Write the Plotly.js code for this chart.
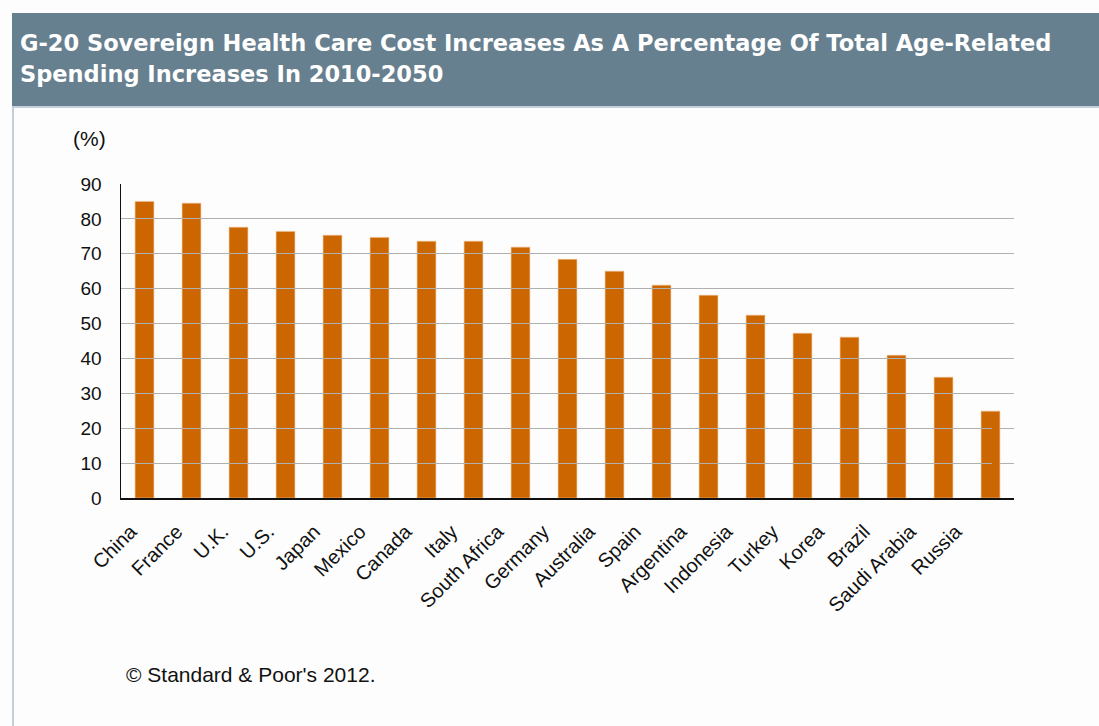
<!DOCTYPE html>
<html>
<head>
<meta charset="utf-8">
<script src="https://cdn.plot.ly/plotly-3.0.1.min.js"></script>
<style>
html,body{margin:0;padding:0;background:#fdfdfd;}
#chart{width:1099px;height:726px;}
</style>
</head>
<body>
<div id="chart"></div>
<script>
const countries = ["China","France","U.K.","U.S.","Japan","Mexico","Canada","Italy","South Africa","Germany","Australia","Spain","Argentina","Indonesia","Turkey","Korea","Brazil","Saudi Arabia","Russia"];
const healthShare = [85.0,84.5,77.6,76.4,75.3,74.7,73.6,73.6,71.9,68.4,65.0,61.0,58.1,52.4,47.2,46.1,40.9,34.6,24.9];
const yTicks = [0,10,20,30,40,50,60,70,80,90];
const titleLine1 = "G-20 Sovereign Health Care Cost Increases As A Percentage Of Total Age-Related";
const titleLine2 = "Spending Increases In 2010-2050";
const sourceNote = "\u00A9 Standard & Poor's 2012.";
const unitLabel = "(%)";

// plot-area geometry in pixels
const W = 1099, H = 726;
const L = 121, R = 1014, T = 184, B = 498;
const px = x => (x - L) / (R - L);
const py = y => (B - y) / (B - T);
const FONT = 'Liberation Sans, Arial, sans-serif';

const bars = {
  type: 'bar',
  x: countries,
  y: healthShare,
  marker: {color: '#cc6600', line: {color: '#eebb88', width: 0.6}},
  width: 0.4,
  hoverinfo: 'x+y'
};
// invisible companion trace carrying the category tick labels (slightly tighter spacing, as in the source)
const labels = {
  type: 'scatter', mode: 'markers',
  x: countries, y: countries.map(() => 0),
  xaxis: 'x2', yaxis: 'y',
  marker: {opacity: 0}, hoverinfo: 'skip'
};

const layout = {
  width: W, height: H,
  margin: {l: L, r: W - R, t: T, b: H - B, pad: 0},
  paper_bgcolor: '#fdfdfd',
  plot_bgcolor: 'rgba(0,0,0,0)',
  showlegend: false,
  font: {family: FONT, color: '#111111'},
  xaxis: {
    type: 'category',
    domain: [0, 1],
    showticklabels: false,
    showline: true, linecolor: '#111111', linewidth: 2,
    ticks: '', showgrid: false, zeroline: false,
    range: [-0.5, countries.length - 0.5]
  },
  xaxis2: {
    type: 'category',
    anchor: 'y', side: 'bottom',
    domain: [0, 0.975],
    tickangle: -45,
    tickfont: {size: 20, family: FONT, color: '#111'},
    ticklabelshift: -13, ticklabelstandoff: 17,
    showline: false, ticks: '', showgrid: false, zeroline: false,
    range: [-0.5, countries.length - 0.5]
  },
  yaxis: {
    range: [0, 90],
    tickvals: yTicks,
    ticktext: yTicks.map(String),
    tickfont: {size: 19, family: FONT, color: '#111'},
    showline: true, linecolor: '#111111', linewidth: 1.5,
    showgrid: true, gridcolor: '#b0b0b0', gridwidth: 1.2,
    zeroline: false, ticks: '', ticklabelstandoff: 14
  },
  shapes: [
    {type: 'rect', xref: 'paper', yref: 'paper', x0: px(12), x1: px(1099), y0: py(13), y1: py(107),
     fillcolor: '#67808f', line: {width: 0}, layer: 'below'},
    {type: 'line', xref: 'paper', yref: 'paper', x0: px(12), x1: px(1099), y0: py(107), y1: py(107),
     line: {color: '#c3d0da', width: 2}},
    {type: 'line', xref: 'paper', yref: 'paper', x0: px(13), x1: px(13), y0: py(107), y1: py(726),
     line: {color: '#c3d0da', width: 2}}
  ],
  annotations: [
    {xref: 'paper', yref: 'paper', x: px(18), y: py(43), xanchor: 'left', yanchor: 'middle',
     text: '<b>' + titleLine1 + '</b>', showarrow: false,
     font: {family: 'DejaVu Sans, Verdana, sans-serif', size: 22.5, color: '#ffffff'}},
    {xref: 'paper', yref: 'paper', x: px(18), y: py(74), xanchor: 'left', yanchor: 'middle',
     text: '<b>' + titleLine2 + '</b>', showarrow: false,
     font: {family: 'DejaVu Sans, Verdana, sans-serif', size: 22.5, color: '#ffffff'}},
    {xref: 'paper', yref: 'paper', x: px(89), y: py(138), xanchor: 'center', yanchor: 'middle',
     text: unitLabel, showarrow: false,
     font: {family: FONT, size: 21, color: '#111'}},
    {xref: 'paper', yref: 'paper', x: px(124), y: py(674), xanchor: 'left', yanchor: 'middle',
     text: sourceNote, showarrow: false,
     font: {family: FONT, size: 21, color: '#111'}}
  ]
};

Plotly.newPlot('chart', [bars, labels], layout, {displayModeBar: false, staticPlot: true});
</script>
</body>
</html>
